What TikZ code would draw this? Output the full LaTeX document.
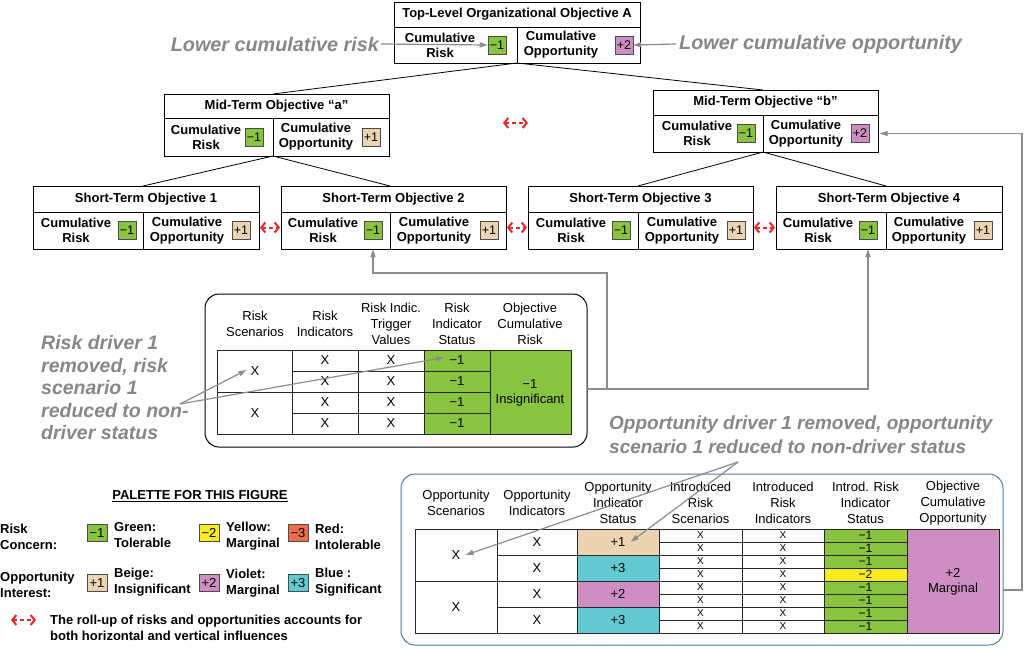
\documentclass[tikz,border=0pt]{standalone}
\usepackage{fontspec}
\setmainfont{Liberation Sans}
\usetikzlibrary{arrows.meta}
\definecolor{cgreen}{RGB}{137,196,64}
\definecolor{cbeige}{RGB}{236,212,178}
\definecolor{cviolet}{RGB}{206,142,196}
\definecolor{cblue}{RGB}{98,202,208}
\definecolor{cyellow}{RGB}{246,236,30}
\definecolor{cred}{RGB}{240,108,76}
\definecolor{anngray}{RGB}{135,135,135}
\definecolor{congray}{RGB}{140,140,140}
\definecolor{oppblue}{RGB}{78,124,170}
\definecolor{rarrow}{RGB}{236,40,40}
\newcommand\fs[2]{\fontsize{#1}{#2}\selectfont}
% objective box: name, x-left, x-divider, x-right, y-top, y-mid, y-bottom, title
\newcommand\objbox[8]{%
  \pgfmathsetmacro\oW{#4-#2}\pgfmathsetmacro\oH{#6-#5}%
  \pgfmathsetmacro\rW{#3-#2}\pgfmathsetmacro\qW{#4-#3}\pgfmathsetmacro\lH{#7-#6}%
  \node[ttl, minimum width=\oW pt, minimum height=\oH pt] (#1) at (#2,#5) {#8};%
  \node[ocell, minimum width=\rW pt, minimum height=\lH pt] (#1r) at (#2,#6) {};%
  \node[ocell, minimum width=\qW pt, minimum height=\lH pt] (#1o) at (#3,#6) {};%
}
% cell content: name, x text, y, text, x badge, colour, value
\newcommand\cval[7]{%
  \node[clbl] (#1l) at (#2,#3) {#4};%
  \node[badge, fill=#6] (#1b) at (#5,#3) {#7};%
}
\begin{document}
\begin{tikzpicture}[x=1pt,y=-1pt,
  ttl/.style={draw, line width=0.8pt, anchor=north west, inner sep=0pt, outer sep=0pt, font=\bfseries\fs{13}{15}},
  ocell/.style={draw, line width=0.8pt, anchor=north west, inner sep=0pt, outer sep=0pt},
  clbl/.style={font=\bfseries\fs{13}{15}, align=center, inner sep=0pt},
  badge/.style={draw=black!70, line width=0.5pt, minimum width=18pt, minimum height=18pt, inner sep=0pt, font=\fs{12.5}{12.5}},
  lbadge/.style={badge, minimum width=20pt, minimum height=17pt, font=\fs{13}{13}},
  tree/.style={line width=0.8pt},
  rr/.style={draw=rarrow, line width=2pt, dash pattern=on 4pt off 3pt, <->, >={Straight Barb[length=4pt,width=10pt]}},
  gcon/.style={draw=congray, line width=1.2pt},
  gtip/.style={-{Triangle[length=8pt,width=5pt]}},
  ann/.style={text=anngray, align=left, inner sep=0pt},
  th/.style={font=\fs{13}{16}, align=center, inner sep=0pt},
  td/.style={font=\fs{13}{15}, align=center, inner sep=0pt},
  tx/.style={font=\fs{10}{10}, inner sep=0pt},
  grid/.style={line width=0.6pt, draw=black!85},
  leg/.style={font=\bfseries\fs{13}{16}, align=left, inner sep=0pt, anchor=west}
]
\useasboundingbox[fill=white] (0,0) rectangle (1025,650);

% ---------- objective boxes ----------
\objbox{tp}{394}{517}{640}{2}{27}{63}{Top-Level Organizational Objective A}
\cval{tpR}{440}{45}{Cumulative\\Risk}{497}{cgreen}{−1}
\cval{tpO}{561}{45}{Cumulative\\Opportunity}{624}{cviolet}{+2}

\objbox{ma}{164}{273}{389}{94}{118}{156}{Mid-Term Objective “a”}
\cval{maR}{206}{137}{Cumulative\\Risk}{254}{cgreen}{−1}
\cval{maO}{316}{137}{Cumulative\\Opportunity}{371}{cbeige}{+1}

\objbox{mb}{653}{763}{878}{90}{115}{152}{Mid-Term Objective “b”}
\cval{mbR}{697}{133.5}{Cumulative\\Risk}{746}{cgreen}{−1}
\cval{mbO}{806}{133.5}{Cumulative\\Opportunity}{860}{cviolet}{+2}

\objbox{sa}{33}{143}{259}{186}{212}{249}{Short-Term Objective 1}
\cval{saR}{76}{230.5}{Cumulative\\Risk}{127}{cgreen}{−1}
\cval{saO}{187}{230.5}{Cumulative\\Opportunity}{241}{cbeige}{+1}

\objbox{sb}{281}{390}{506}{186}{212}{249}{Short-Term Objective 2}
\cval{sbR}{323}{230.5}{Cumulative\\Risk}{373}{cgreen}{−1}
\cval{sbO}{434}{230.5}{Cumulative\\Opportunity}{489}{cbeige}{+1}

\objbox{sc}{528}{638}{753}{186}{212}{249}{Short-Term Objective 3}
\cval{scR}{571}{230.5}{Cumulative\\Risk}{621}{cgreen}{−1}
\cval{scO}{682}{230.5}{Cumulative\\Opportunity}{736}{cbeige}{+1}

\objbox{sd}{776}{886}{1002}{186}{212}{249}{Short-Term Objective 4}
\cval{sdR}{818}{230.5}{Cumulative\\Risk}{868}{cgreen}{−1}
\cval{sdO}{929}{230.5}{Cumulative\\Opportunity}{983}{cbeige}{+1}

% ---------- hierarchy ----------
\draw[tree] (tpr.south east) -- (mar.south east |- ma.north);
\draw[tree] (tpr.south east) -- (mbr.south east |- mb.north);
\draw[tree] (mar.south east) -- (sar.south east |- sa.north);
\draw[tree] (mar.south east) -- (sbr.south east |- sb.north);
\draw[tree] (mbr.south east) -- (scr.south east |- sc.north);
\draw[tree] (mbr.south east) -- (sdr.south east |- sd.north);

% ---------- horizontal influences ----------
\draw[rr] ([xshift=1pt,yshift=3pt]sao.east) -- ([xshift=-1pt,yshift=3pt]sbr.west);
\draw[rr] ([xshift=1pt,yshift=3pt]sbo.east) -- ([xshift=-1pt,yshift=3pt]scr.west);
\draw[rr] ([xshift=1pt,yshift=3pt]sco.east) -- ([xshift=-1pt,yshift=3pt]sdr.west);
\coordinate (midl) at (503,123);
\coordinate (midr) at (528,123);
\draw[rr] (midl) -- (midr);

% ---------- top annotations ----------
\node[ann, anchor=east, font=\bfseries\itshape\fs{19.8}{23}] (lcr) at (379,44) {Lower cumulative risk};
\draw[gcon,gtip] ([xshift=2pt]lcr.east) -- (tpRb.west);
\node[ann, anchor=west, font=\bfseries\itshape\fs{19.8}{23}] (lco) at (679,44) {Lower cumulative opportunity};
\draw[gcon,gtip] ([xshift=-3pt]lco.west) -- (tpOb.east);

% ---------- risk table ----------
\node[draw, line width=1pt, rounded corners=14pt, minimum width=382pt, minimum height=153pt, anchor=north west, inner sep=0pt, outer sep=0pt] (rbox) at (205,294) {};
\node[th] (rh1) at (255,324) {Risk\\Scenarios};
\node[th] (rh2) at (325,324) {Risk\\Indicators};
\node[th] (rh3) at (391,324) {Risk Indic.\\Trigger\\Values};
\node[th] (rh4) at (457,324) {Risk\\Indicator\\Status};
\node[th] (rh5) at (530,324) {Objective\\Cumulative\\Risk};
\fill[cgreen] (424,350) rectangle (571,434);
\draw[grid] (217,350) rectangle (571,434);
\foreach \x in {292,358,424,490} \draw[grid] (\x,350) -- (\x,434);
\draw[grid] (217,392) -- (490,392);
\foreach \y in {371,413} \draw[grid] (292,\y) -- (490,\y);
\node[td] (rs1) at (255,371) {X};
\node[td] (rs2) at (255,413) {X};
\foreach \y [count=\i] in {360.5,381.5,402.5,423.5} {
  \node[td] (ri\i) at (325,\y) {X};
  \node[td] (rt\i) at (391,\y) {X};
  \node[td] (rst\i) at (457,\y) {−1};
}
\node[td] (rcum) at (530,393) {−1\\Insignificant};

% risk driver annotation
\node[ann, anchor=west, font=\bfseries\itshape\fs{19.5}{22.5}] (rdt) at (41,388) {Risk driver 1\\removed, risk\\scenario 1\\reduced to non-\\driver status};
\coordinate (rd) at (180,404);
\draw[gcon,gtip] (rd) -- ([xshift=-4pt,yshift=1pt]rs1.west);
\draw[gcon,gtip] (rd) -- ([xshift=-5pt,yshift=3pt]rst1.west);

% connections from risk table
\coordinate (J) at (607,389);
\coordinate (K) at (607,273);
\draw[gcon] (rbox.east |- J) -- (J);
\draw[gcon,gtip] (J) -- (J -| sdRb) -- (sdRb |- sdr.south);
\draw[gcon,gtip] (J) -- (K) -- (K -| sbRb) -- (sbRb |- sbr.south);

% ---------- opportunity table ----------
\node[draw=oppblue, line width=1pt, rounded corners=14pt, minimum width=602pt, minimum height=171pt, anchor=north west, inner sep=0pt, outer sep=0pt] (obox) at (401,474) {};
\node[th] (oh1) at (456,503) {Opportunity\\Scenarios};
\node[th] (oh2) at (537,503) {Opportunity\\Indicators};
\node[th] (oh3) at (618,503) {Opportunity\\Indicator\\Status};
\node[th] (oh4) at (700.5,503) {Introduced\\Risk\\Scenarios};
\node[th] (oh5) at (783,503) {Introduced\\Risk\\Indicators};
\node[th] (oh6) at (865.5,503) {Introd. Risk\\Indicator\\Status};
\node[th] (oh7) at (953,503) {Objective\\Cumulative\\Opportunity};
\fill[cbeige] (577,529) rectangle (659,555);
\fill[cblue] (577,555) rectangle (659,581);
\fill[cviolet] (577,581) rectangle (659,607);
\fill[cblue] (577,607) rectangle (659,633);
\fill[cgreen] (824,529) rectangle (907,633);
\fill[cyellow] (824,568) rectangle (907,581);
\fill[cviolet] (907,529) rectangle (999,633);
\draw[grid] (415,529) rectangle (999,633);
\foreach \x in {497,577,659,742,824,907} \draw[grid] (\x,529) -- (\x,633);
\draw[grid] (415,581) -- (907,581);
\foreach \y in {555,607} \draw[grid] (497,\y) -- (907,\y);
\foreach \y in {542,568,594,620} \draw[grid] (659,\y) -- (907,\y);
\node[td] (os1) at (456,555) {X};
\node[td] (os2) at (456,607) {X};
\foreach \y/\v [count=\i] in {542/+1,568/+3,594/+2,620/+3} {
  \node[td] (oi\i) at (537,\y) {X};
  \node[td] (ost\i) at (618,\y) {\v};
}
\foreach \y/\v [count=\i] in {535.5/−1,548.5/−1,561.5/−1,574.5/−2,587.5/−1,600.5/−1,613.5/−1,626.5/−1} {
  \node[tx] (ors\i) at (700.5,\y) {X};
  \node[tx] (ori\i) at (783,\y) {X};
  \node[td, font=\fs{12}{12}] (orst\i) at (865.5,\y) {\v};
}
\node[td] (ocum) at (953,582) {+2\\Marginal};

% opportunity driver annotation
\node[ann, anchor=west, font=\bfseries\itshape\fs{19}{24}] (odt) at (609,435) {Opportunity driver 1 removed, opportunity\\scenario 1 reduced to non-driver status};
\coordinate (od) at (738,462);
\draw[gcon,gtip] (od) -- ([xshift=5pt]os1.east);
\draw[gcon,gtip] (od) -- ([xshift=5pt]ost1.east);

% connection from opportunity table
\coordinate (R1) at (1022,590);
\draw[gcon,gtip] (obox.east |- R1) -- (R1) -- (R1 |- mbOb) -- ([xshift=1.5pt]mbo.east |- mbOb);

% ---------- legend ----------
\node[leg, anchor=center] (pal) at (200,496) {\underline{PALETTE FOR THIS FIGURE}};
\node[leg] (lrc) at (0,537) {Risk\\Concern:};
\node[lbadge, fill=cgreen] (lb1) at (97,533) {−1};
\node[leg] (lt1) at (114,535) {Green:\\Tolerable};
\node[lbadge, fill=cyellow] (lb2) at (209,533) {−2};
\node[leg] (lt2) at (226,536) {Yellow:\\Marginal};
\node[lbadge, fill=cred] (lb3) at (298,533) {−3};
\node[leg] (lt3) at (315,537) {Red:\\Intolerable};
\node[leg] (loi) at (0,585) {Opportunity\\Interest:};
\node[lbadge, fill=cbeige] (lb4) at (97,583) {+1};
\node[leg] (lt4) at (114,582) {Beige:\\Insignificant};
\node[lbadge, fill=cviolet] (lb5) at (209,583) {+2};
\node[leg] (lt5) at (226,583) {Violet:\\Marginal};
\node[lbadge, fill=cblue] (lb6) at (298,583) {+3};
\node[leg] (lt6) at (315,582) {Blue :\\Significant};
\coordinate (lra) at (11,620);
\coordinate (lrb) at (36,620);
\draw[rr] (lra) -- (lrb);
\node[leg] (lru) at (50,627.5) {The roll-up of risks and opportunities accounts for\\both horizontal and vertical influences};
\end{tikzpicture}
\end{document}
